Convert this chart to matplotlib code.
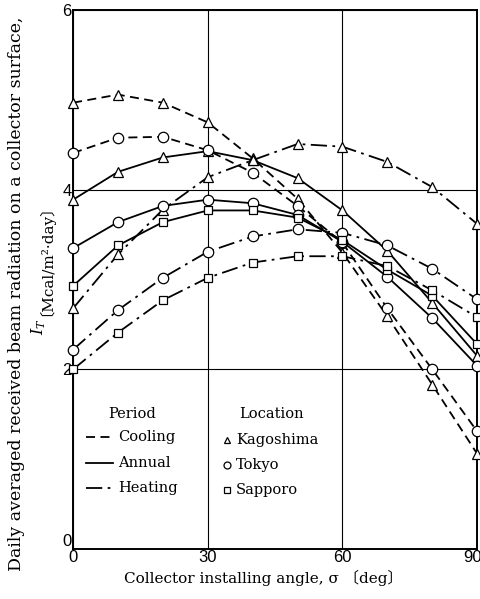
#!/usr/bin/env python3
import matplotlib
matplotlib.use("Agg")
import matplotlib.pyplot as plt
import matplotlib.transforms as mtransforms

plt.rcParams["font.family"] = ["DejaVu Serif", "Noto Sans CJK JP"]
plt.rcParams["mathtext.fontset"] = "dejavuserif"

# Collector tilt angle (deg)
angle = [0, 10, 20, 30, 40, 50, 60, 70, 80, 90]

# Daily averaged beam radiation, Mcal/m2.day
kagoshima_cooling = [4.97, 5.06, 4.97, 4.75, 4.35, 3.90, 3.30, 2.59, 1.83, 1.06]
kagoshima_annual = [3.89, 4.20, 4.36, 4.43, 4.33, 4.13, 3.77, 3.32, 2.74, 2.15]
kagoshima_heating = [2.68, 3.28, 3.78, 4.14, 4.33, 4.51, 4.48, 4.31, 4.03, 3.62]

tokyo_cooling = [4.41, 4.58, 4.59, 4.44, 4.19, 3.82, 3.41, 2.68, 2.00, 1.31]
tokyo_annual = [3.35, 3.64, 3.82, 3.89, 3.85, 3.72, 3.42, 3.03, 2.57, 2.04]
tokyo_heating = [2.22, 2.66, 3.02, 3.31, 3.48, 3.56, 3.52, 3.38, 3.12, 2.78]

sapporo_annual = [2.93, 3.38, 3.64, 3.77, 3.77, 3.69, 3.44, 3.11, 2.82, 2.28]
sapporo_heating = [2.00, 2.41, 2.77, 3.02, 3.19, 3.26, 3.26, 3.15, 2.88, 2.58]

x_ticks = [0, 30, 60, 90]
y_ticks = [0, 2, 4, 6]

dashed = (0, (5, 3))
dashdot = (0, (9, 3, 1.5, 3))

series = [
    (kagoshima_cooling, dashed, "^"),
    (kagoshima_annual, "-", "^"),
    (kagoshima_heating, dashdot, "^"),
    (tokyo_cooling, dashed, "o"),
    (tokyo_annual, "-", "o"),
    (tokyo_heating, dashdot, "o"),
    (sapporo_annual, "-", "s"),
    (sapporo_heating, dashdot, "s"),
]

fig = plt.figure(figsize=(4.81, 5.99), dpi=100)
ax = fig.add_axes([0.152, 0.0835, 0.840, 0.8995])

for vals, ls, mk in series:
    ms = 6 if mk == "s" else 7.5
    ax.plot(angle, vals, color="black", linestyle=ls, linewidth=1.3,
            marker=mk, markersize=ms, markerfacecolor="white",
            markeredgecolor="black", markeredgewidth=0.9,
            clip_on=False, zorder=3)

ax.set_xlim(0, 90)
ax.set_ylim(0, 6)
ax.set_xticks(x_ticks)
ax.set_yticks(y_ticks)
ax.tick_params(length=0, labelsize=12, pad=1)
ax.grid(True, color="black", linewidth=0.8)
for sp in ax.spines.values():
    sp.set_linewidth(1.4)

fig.canvas.draw()
for lab in ax.get_xticklabels() + ax.get_yticklabels():
    lab.set_family("Liberation Sans")
# "90" sits flush with the right edge, the y "0" rests on the baseline
last = ax.get_xticklabels()[-1]
last.set_horizontalalignment("right")
last.set_transform(last.get_transform() +
                   mtransforms.ScaledTranslation(5 / 100, 0, fig.dpi_scale_trans))
ax.get_yticklabels()[0].set_verticalalignment("bottom")

fig.text(263 / 481, (599 - 578) / 599, "Collector installing angle, σ 〔deg〕",
         ha="center", va="center", fontsize=11)
fig.text(0.034, 0.51, "Daily averaged received beam radiation on a collector surface,",
         rotation=90, ha="center", va="center", fontsize=12.5)
fig.text(0.080, (599 - 327) / 599, r"$I_T$", rotation=90,
         ha="center", va="center", fontsize=11.5)
fig.text(0.080, (599 - 316) / 599, "〔Mcal/m²·day〕", rotation=90,
         ha="center", va="bottom", fontsize=11)

# legend drawn inside the lower-left grid cells
def ax_xy(px, py):
    return (px - 73) / 404, (549 - py) / 539

tx, ty = ax_xy(132, 414)
ax.text(tx, ty, "Period", transform=ax.transAxes, ha="center", va="center", fontsize=10.5)
for name, ls, py in [("Cooling", dashed, 437), ("Annual", "-", 463), ("Heating", dashdot, 488)]:
    x0, y0 = ax_xy(86, py)
    x1, _ = ax_xy(113, py)
    ax.plot([x0, x1], [y0, y0], transform=ax.transAxes, color="black",
            linestyle=ls, linewidth=1.3)
    lx, _ = ax_xy(118, py)
    ax.text(lx, y0, name, transform=ax.transAxes, ha="left", va="center", fontsize=10.5)

tx, ty = ax_xy(271, 414)
ax.text(tx, ty, "Location", transform=ax.transAxes, ha="center", va="center", fontsize=10.5)
for name, mk, py in [("Kagoshima", "^", 440), ("Tokyo", "o", 465), ("Sapporo", "s", 490)]:
    mx, my = ax_xy(227, py)
    ax.plot([mx], [my], transform=ax.transAxes, marker=mk, markersize=5,
            markerfacecolor="white", markeredgecolor="black", markeredgewidth=0.9)
    lx, _ = ax_xy(236, py)
    ax.text(lx, my, name, transform=ax.transAxes, ha="left", va="center", fontsize=10.5)

fig.savefig("out.png", dpi=100)
